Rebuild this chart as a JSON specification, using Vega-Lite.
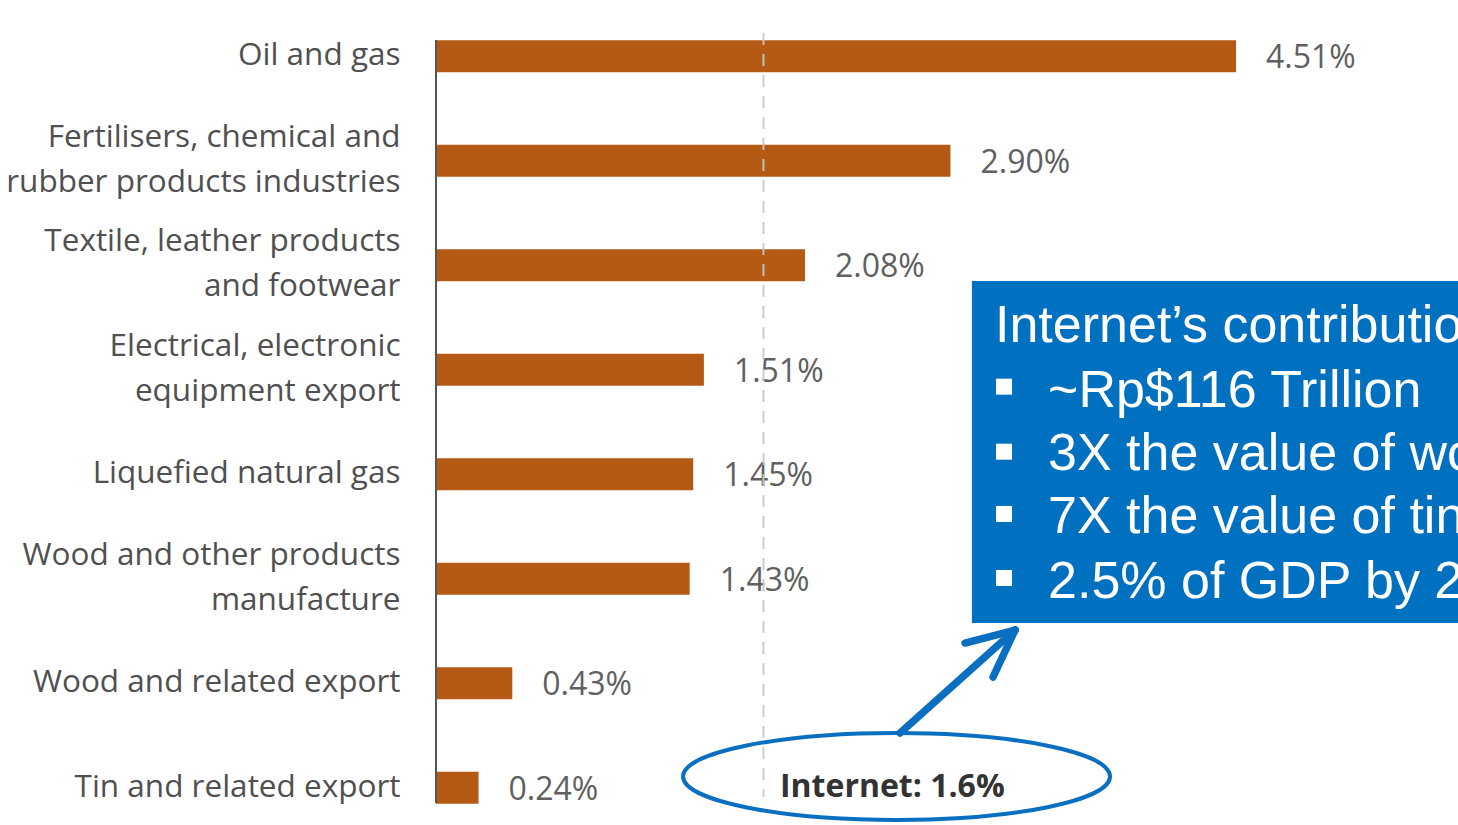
{
  "$schema": "https://vega.github.io/schema/vega-lite/v6.json",
  "autosize": "none",
  "width": 1022,
  "height": 836,
  "padding": {"left": 436, "top": 4, "right": 0, "bottom": 0},
  "background": "white",
  "config": {"view": {"stroke": null}},
  "datasets": {
    "bars": [
      {"cat": "Oil and gas", "v": 4.51, "lab": "4.51%"},
      {"cat": "Fertilisers, chemical and|rubber products industries", "v": 2.90, "lab": "2.90%"},
      {"cat": "Textile, leather products|and footwear", "v": 2.08, "lab": "2.08%"},
      {"cat": "Electrical, electronic|equipment export", "v": 1.51, "lab": "1.51%"},
      {"cat": "Liquefied natural gas", "v": 1.45, "lab": "1.45%"},
      {"cat": "Wood and other products|manufacture", "v": 1.43, "lab": "1.43%"},
      {"cat": "Wood and related export", "v": 0.43, "lab": "0.43%"},
      {"cat": "Tin and related export", "v": 0.24, "lab": "0.24%"}
    ],
    "dash": [{"x": 1.846, "r": -0.222, "r2": 7.089}],
    "axisline": [{"x": 0, "r": -0.155, "r2": 7.146}],
    "box": [{"x": 3.021, "x2": 6.2, "r": 2.151, "r2": 5.423}],
    "boxtext": [
      {"x": 3.151, "r": 2.732, "t": "Internet’s contribution to GDP"},
      {"x": 3.45, "r": 3.354, "t": "~Rp$116 Trillion"},
      {"x": 3.45, "r": 3.959, "t": "3X the value of wood exports"},
      {"x": 3.45, "r": 4.562, "t": "7X the value of tin exports"},
      {"x": 3.45, "r": 5.184, "t": "2.5% of GDP by 2016"}
    ],
    "bullets": [
      {"x": 3.202, "r": 3.162},
      {"x": 3.202, "r": 3.784},
      {"x": 3.202, "r": 4.380},
      {"x": 3.202, "r": 4.993}
    ],
    "arrow": [
      {"x": 2.616, "r": 6.476, "x2": 3.264, "r2": 5.491},
      {"x": 3.264, "r": 5.491, "x2": 2.982, "r2": 5.615},
      {"x": 3.264, "r": 5.491, "x2": 3.140, "r2": 5.940}
    ],
    "ellipse": [{"x": 2.596, "r": 6.892}],
    "internet": [{"x": 1.939, "r": 7.086, "t": "Internet: 1.6%"}]
  },
  "resolve": {"scale": {"y": "independent"}, "axis": {"y": "independent"}},
  "layer": [
    {
      "data": {"name": "bars"},
      "mark": {"type": "bar", "color": "#b45a14"},
      "encoding": {
        "y": {"field": "cat", "type": "nominal", "sort": null,
              "scale": {"type": "band", "paddingInner": 0.694, "paddingOuter": 0.347},
              "axis": {"title": null, "domain": false, "ticks": false, "labelPadding": 36,
                       "labelFont": "Open Sans", "labelFontSize": 31.5, "labelColor": "#505050",
                       "labelLimit": 600, "labelLineHeight": 45, "labelAlign": "right",
                       "labelOffset": {"condition": {"test": "indexof(datum.value, '|') >= 0", "value": -23}, "value": 0},
                       "labelExpr": "split(datum.label, '|')"}},
        "x": {"field": "v", "type": "quantitative", "scale": {"domain": [0, 5.761], "nice": false, "zero": false}, "axis": null}
      }
    },
    {
      "data": {"name": "bars"},
      "mark": {"type": "text", "align": "left", "baseline": "middle", "dx": 30, "dy": 2,
               "font": "Open Sans", "fontSize": 32, "color": "#606060"},
      "encoding": {
        "y": {"field": "cat", "type": "nominal", "sort": null,
              "scale": {"type": "band", "paddingInner": 0.694, "paddingOuter": 0.347}, "axis": null},
        "x": {"field": "v", "type": "quantitative", "scale": {"domain": [0, 5.761], "nice": false, "zero": false}, "axis": null},
        "text": {"field": "lab"}
      }
    },
    {
      "data": {"name": "dash"},
      "mark": {"type": "rule", "color": "#c8c8c8", "strokeWidth": 2, "strokeDash": [12, 9], "opacity": 0.9},
      "encoding": {
        "x": {"field": "x", "type": "quantitative", "scale": {"domain": [0, 5.761], "nice": false, "zero": false}, "axis": null},
        "y": {"field": "r", "type": "quantitative", "scale": {"domain": [-0.5, 7.5], "reverse": true, "nice": false, "zero": false}, "axis": null},
        "y2": {"field": "r2"}
      }
    },
    {
      "data": {"name": "axisline"},
      "mark": {"type": "rule", "color": "#555555", "strokeWidth": 2},
      "encoding": {
        "x": {"field": "x", "type": "quantitative", "scale": {"domain": [0, 5.761], "nice": false, "zero": false}, "axis": null},
        "y": {"field": "r", "type": "quantitative", "scale": {"domain": [-0.5, 7.5], "reverse": true, "nice": false, "zero": false}, "axis": null},
        "y2": {"field": "r2"}
      }
    },
    {
      "data": {"name": "box"},
      "mark": {"type": "rect", "color": "#0070c0", "clip": true},
      "encoding": {
        "x": {"field": "x", "type": "quantitative", "scale": {"domain": [0, 5.761], "nice": false, "zero": false}, "axis": null},
        "x2": {"field": "x2"},
        "y": {"field": "r", "type": "quantitative", "scale": {"domain": [-0.5, 7.5], "reverse": true, "nice": false, "zero": false}, "axis": null},
        "y2": {"field": "r2"}
      }
    },
    {
      "data": {"name": "boxtext"},
      "mark": {"type": "text", "align": "left", "baseline": "alphabetic", "font": "Liberation Sans",
               "fontSize": 52, "color": "white", "clip": true},
      "encoding": {
        "x": {"field": "x", "type": "quantitative", "scale": {"domain": [0, 5.761], "nice": false, "zero": false}, "axis": null},
        "y": {"field": "r", "type": "quantitative", "scale": {"domain": [-0.5, 7.5], "reverse": true, "nice": false, "zero": false}, "axis": null},
        "text": {"field": "t"}
      }
    },
    {
      "data": {"name": "bullets"},
      "mark": {"type": "point", "shape": "square", "filled": true, "color": "white", "opacity": 1, "size": 256},
      "encoding": {
        "x": {"field": "x", "type": "quantitative", "scale": {"domain": [0, 5.761], "nice": false, "zero": false}, "axis": null},
        "y": {"field": "r", "type": "quantitative", "scale": {"domain": [-0.5, 7.5], "reverse": true, "nice": false, "zero": false}, "axis": null}
      }
    },
    {
      "data": {"name": "arrow"},
      "mark": {"type": "rule", "color": "#0a6fc0", "strokeWidth": 7.5, "strokeCap": "round"},
      "encoding": {
        "x": {"field": "x", "type": "quantitative", "scale": {"domain": [0, 5.761], "nice": false, "zero": false}, "axis": null},
        "x2": {"field": "x2"},
        "y": {"field": "r", "type": "quantitative", "scale": {"domain": [-0.5, 7.5], "reverse": true, "nice": false, "zero": false}, "axis": null},
        "y2": {"field": "r2"}
      }
    },
    {
      "data": {"name": "ellipse"},
      "mark": {"type": "point", "filled": false, "stroke": "#0a6fc0", "strokeWidth": 4, "opacity": 1, "size": 182329,
               "shape": "M 1 0 C 1 0.1125 0.5523 0.2037 0 0.2037 C -0.5523 0.2037 -1 0.1125 -1 0 C -1 -0.1125 -0.5523 -0.2037 0 -0.2037 C 0.5523 -0.2037 1 -0.1125 1 0 Z"},
      "encoding": {
        "x": {"field": "x", "type": "quantitative", "scale": {"domain": [0, 5.761], "nice": false, "zero": false}, "axis": null},
        "y": {"field": "r", "type": "quantitative", "scale": {"domain": [-0.5, 7.5], "reverse": true, "nice": false, "zero": false}, "axis": null}
      }
    },
    {
      "data": {"name": "internet"},
      "mark": {"type": "text", "align": "left", "baseline": "alphabetic", "font": "Open Sans",
               "fontSize": 32, "fontWeight": "bold", "color": "#333333"},
      "encoding": {
        "x": {"field": "x", "type": "quantitative", "scale": {"domain": [0, 5.761], "nice": false, "zero": false}, "axis": null},
        "y": {"field": "r", "type": "quantitative", "scale": {"domain": [-0.5, 7.5], "reverse": true, "nice": false, "zero": false}, "axis": null},
        "text": {"field": "t"}
      }
    }
  ]
}
